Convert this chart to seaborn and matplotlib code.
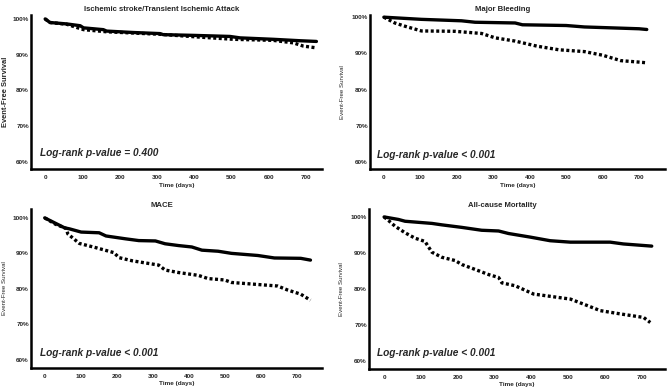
import pandas as pd
import matplotlib.pyplot as plt
import seaborn as sns

# Kaplan-Meier style curves (days, % event-free)
stroke_solid_t = [0, 13, 58, 94, 103, 156, 165, 237, 308, 317, 398, 496, 523, 612, 684, 728]
stroke_solid_s = [100, 99.0, 98.6, 98.1, 97.5, 97.0, 96.6, 96.2, 95.9, 95.6, 95.4, 95.1, 94.7, 94.3, 93.9, 93.7]
stroke_dot_t = [0, 13, 58, 103, 165, 308, 416, 505, 612, 666, 693, 728]
stroke_dot_s = [100, 99.0, 98.5, 97.0, 96.4, 95.7, 94.9, 94.3, 94.0, 93.3, 92.4, 91.9]

bleed_solid_t = [0, 103, 213, 250, 360, 380, 500, 550, 700, 721]
bleed_solid_s = [100, 99.4, 99.0, 98.6, 98.4, 97.9, 97.7, 97.3, 96.8, 96.6]
bleed_dot_t = [0, 30, 58, 103, 195, 268, 305, 360, 420, 480, 550, 600, 650, 700, 721]
bleed_dot_s = [100, 98.4, 97.5, 96.2, 96.1, 95.5, 94.3, 93.4, 92.0, 91.0, 90.5, 89.5, 88.0, 87.6, 87.4]

mace_solid_t = [0, 55, 69, 101, 151, 170, 224, 261, 307, 334, 371, 408, 436, 481, 518, 591, 637, 710, 737]
mace_solid_s = [100, 97.2, 96.9, 96.0, 95.8, 94.9, 94.1, 93.6, 93.5, 92.7, 92.2, 91.8, 90.9, 90.6, 90.0, 89.4, 88.7, 88.6, 88.1]
mace_dot_t = [0, 30, 60, 64, 96, 142, 192, 206, 243, 316, 334, 371, 426, 453, 499, 518, 646, 673, 710, 737]
mace_dot_s = [100, 98.2, 97.0, 95.5, 92.8, 91.6, 90.2, 88.8, 87.9, 86.7, 85.3, 84.6, 83.8, 82.9, 82.5, 81.8, 80.8, 79.7, 78.5, 76.8]

death_solid_t = [0, 39, 57, 130, 157, 211, 238, 265, 311, 338, 397, 451, 506, 614, 650, 727]
death_solid_s = [100, 99.3, 98.8, 98.2, 97.8, 97.1, 96.7, 96.3, 96.1, 95.4, 94.4, 93.4, 93.0, 93.0, 92.5, 91.9]
death_dot_t = [0, 12, 30, 57, 84, 111, 130, 157, 193, 211, 248, 284, 311, 320, 356, 406, 506, 542, 587, 641, 705, 723]
death_dot_s = [100, 99.0, 97.4, 95.6, 94.1, 93.2, 90.2, 88.8, 87.9, 86.8, 85.4, 84.0, 83.2, 81.7, 80.9, 78.6, 77.2, 75.8, 74.0, 73.1, 72.1, 70.7]

titles = ["Ischemic stroke/Transient Ischemic Attack", "Major Bleeding", "MACE", "All-cause Mortality"]
pvals = ["Log-rank p-value = 0.400", "Log-rank p-value < 0.001",
         "Log-rank p-value < 0.001", "Log-rank p-value < 0.001"]
yticks = [60, 70, 80, 90, 100]
xticks = [0, 100, 200, 300, 400, 500, 600, 700]

curves = [
    (stroke_solid_t, stroke_solid_s, stroke_dot_t, stroke_dot_s),
    (bleed_solid_t, bleed_solid_s, bleed_dot_t, bleed_dot_s),
    (mace_solid_t, mace_solid_s, mace_dot_t, mace_dot_s),
    (death_solid_t, death_solid_s, death_dot_t, death_dot_s),
]

sns.set_style("white")
plt.rcParams['font.family'] = ['Liberation Sans', 'DejaVu Sans']

W, H = 669, 392
fig = plt.figure(figsize=(W / 100, H / 100), dpi=100)

# axes boxes in pixels: left, right, top, bottom
boxes = [(31, 322, 15, 169), (370, 665, 15, 169), (31, 322, 209, 368), (369, 665, 209, 369)]
xlims = [(-38, 743), (-38, 771), (-38, 769), (-41, 763)]
ylims = [(58.0, 101.1), (58.1, 100.6), (57.7, 102.5), (57.8, 102.2)]
ylab_x = [-0.077, -0.086, -0.082, -0.083]
xlab_y = [-0.09, -0.09, -0.08, -0.08]
ptext_pos = [(0.031, 0.104), (0.024, 0.09), (0.031, 0.094), (0.027, 0.10)]
title_pad = [3, 3, 1.5, 1.5]

for i, (l, r, t, b) in enumerate(boxes):
    ax = fig.add_axes([l / W, 1 - b / H, (r - l) / W, (b - t) / H])
    st, ss, dt, ds = curves[i]
    df = pd.concat([
        pd.DataFrame({"day": st, "surv": ss, "group": "solid"}),
        pd.DataFrame({"day": dt, "surv": ds, "group": "dotted"}),
    ])
    sns.lineplot(data=df, x="day", y="surv", style="group",
                 dashes={"solid": "", "dotted": (0.9, 0.75)},
                 color="black", lw=2.4, estimator=None, legend=False, ax=ax)
    for ln in ax.lines:
        ln.set_dash_capstyle("butt")
        ln.set_solid_capstyle("round")

    ax.set_xlim(*xlims[i])
    ax.set_ylim(*ylims[i])
    ax.set_xticks(xticks)
    ax.set_yticks(yticks)
    ax.set_yticklabels([f"{v}%" for v in yticks])
    ax.tick_params(axis="y", length=0, labelsize=4.6, pad=1.5)
    ax.tick_params(axis="x", length=0, labelsize=4.6, pad=4)
    for lab in ax.get_xticklabels() + ax.get_yticklabels():
        lab.set_fontweight("bold")
    sns.despine(ax=ax)
    for side in ["left", "bottom"]:
        ax.spines[side].set_linewidth(1.8)
        ax.spines[side].set_color("black")

    ax.set_xlabel("Time (days)", fontsize=4.6, fontweight="bold")
    ax.xaxis.set_label_coords(0.5, xlab_y[i])
    if i == 0:
        ax.set_ylabel("Event-Free Survival", fontsize=5.4, fontweight="bold")
    else:
        ax.set_ylabel("Event-Free Survival", fontsize=4.4)
    ax.yaxis.set_label_coords(ylab_x[i], 0.5)
    ax.set_title(titles[i], fontsize=5.6, fontweight="bold", x=0.45, pad=title_pad[i])
    ax.text(ptext_pos[i][0], ptext_pos[i][1], pvals[i], transform=ax.transAxes,
            fontsize=7.3, fontweight="bold", fontstyle="italic", va="center")

fig.savefig("out.png", dpi=100)
